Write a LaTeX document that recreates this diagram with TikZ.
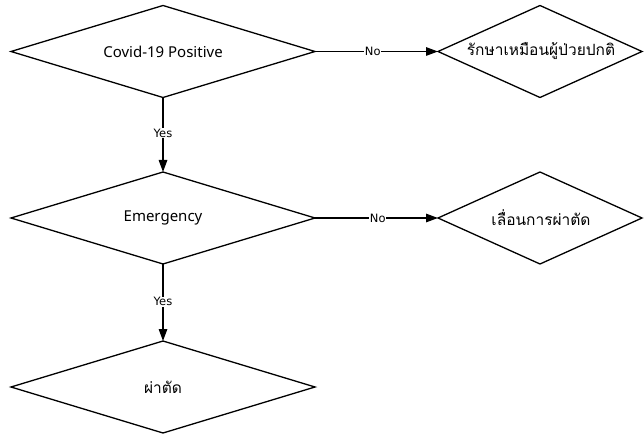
\documentclass[tikz,border=0pt]{standalone}
\usepackage{fontspec}
\setmainfont{Noto Sans}
\newfontfamily\thaifont[Script=Thai]{Loma}
\newfontfamily\lblfont{DejaVu Sans}
\usetikzlibrary{arrows.meta}
\tikzset{
  conn/.style={draw=black, line width=1.3pt, -{Triangle[length=12pt,width=8.5pt]}},
  lbl/.style={fill=white, inner sep=0.8pt, font=\lblfont\fontsize{11.5}{13}\selectfont},
  maintext/.style={font=\fontsize{15}{17}\selectfont},
  thaitext/.style={font=\thaifont\fontsize{15.5}{17}\selectfont},
}
\begin{document}
\begin{tikzpicture}[x=1pt,y=-1pt]
\useasboundingbox (0,0) rectangle (644,435);
% diamonds as paths
\newcommand{\dmd}[4]{% cx, cy, hw, hh
  \draw[line width=1.3pt, line join=miter] (#1-#3,#2) -- (#1,#2-#4) -- (#1+#3,#2) -- (#1,#2+#4) -- cycle;
}
\dmd{163}{51.5}{152}{46}
\dmd{540}{51.5}{102}{46}
\dmd{163}{218}{152}{46}
\dmd{540}{218}{102}{46}
\dmd{163}{387}{152}{46}
% named anchor coordinates
\coordinate (covR) at (315,51.5);
\coordinate (covB) at (163,97.5);
\coordinate (nrmL) at (438,51.5);
\coordinate (emgT) at (163,172);
\coordinate (emgR) at (315,218);
\coordinate (emgB) at (163,264);
\coordinate (pstL) at (438,218);
\coordinate (surT) at (163,341);
% texts
\node[maintext] (cov) at (163,51.5) {Covid-19 Positive};
\node[thaitext] (nrm) at (541,51.5) {รักษาเหมือนผู้ป่วยปกติ};
\node[maintext] (emg) at (163,218) {Emergency};
\node[thaitext] (pst) at (541,218) {เลื่อนการผ่าตัด};
\node[thaitext] (sur) at (163,387) {ผ่าตัด};
% connectors
\draw[conn] (covR) -- node[lbl, pos=0.47] {No} (nrmL);
\draw[conn] (emgR) -- node[lbl, pos=0.51] {No} (pstL);
\draw[conn] (covB) -- node[lbl, pos=0.48] {Yes} (emgT);
\draw[conn] (emgB) -- node[lbl, pos=0.49] {Yes} (surT);
\end{tikzpicture}
\end{document}
